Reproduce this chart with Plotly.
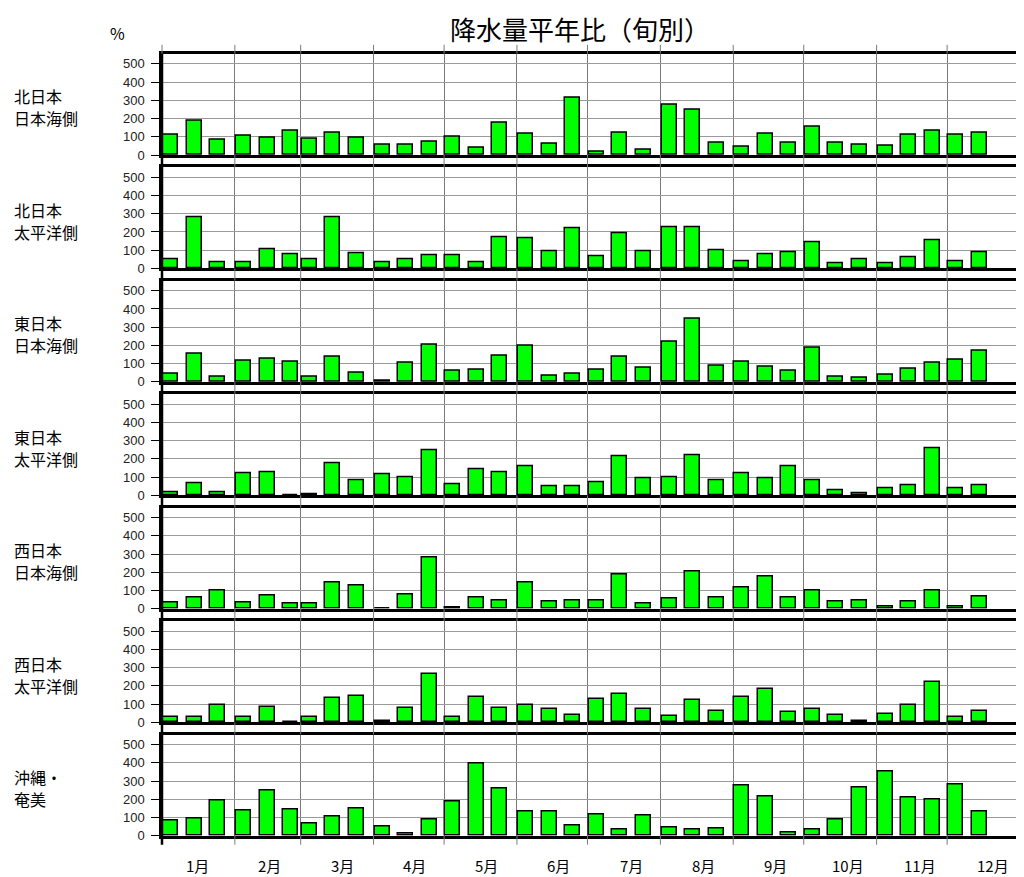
import plotly.graph_objects as go
from plotly.subplots import make_subplots

# ---------------- data ----------------
title_text = "降水量平年比（旬別）"
unit_text = "%"
month_labels = ["1月", "2月", "3月", "4月", "5月", "6月", "7月", "8月", "9月", "10月", "11月", "12月"]
month_days = [31, 28, 31, 30, 31, 30, 31, 31, 30, 31, 30, 31]
region_labels = [["北日本", "日本海側"], ["北日本", "太平洋側"], ["東日本", "日本海側"], ["東日本", "太平洋側"],
                 ["西日本", "日本海側"], ["西日本", "太平洋側"], ["沖縄・", "奄美"]]
y_ticks = [0, 100, 200, 300, 400, 500]

# values per dekad (上旬, 中旬, 下旬) for Jan..Dec; last dekad of Dec not yet available
n_japan_sea = [110, 185, 85, 107, 93, 133, 89, 120, 96, 55, 55, 75, 98, 42, 176, 115, 62, 316,
               20, 124, 27, 275, 249, 69, 44, 116, 65, 155, 65, 55, 51, 111, 131, 111, 124, None]
n_pacific = [51, 281, 35, 35, 106, 77, 49, 281, 84, 33, 53, 71, 71, 33, 173, 166, 95, 223,
             66, 192, 95, 228, 228, 102, 40, 78, 91, 144, 26, 53, 31, 60, 157, 40, 89, None]
e_japan_sea = [45, 156, 27, 116, 129, 111, 31, 136, 53, 8, 105, 204, 60, 69, 145, 200, 35, 45,
               67, 138, 76, 218, 345, 89, 111, 84, 60, 185, 31, 24, 38, 73, 105, 120, 173, None]
e_pacific = [18, 68, 15, 121, 125, 0, 9, 176, 84, 115, 99, 247, 60, 143, 130, 158, 49, 51,
             75, 214, 97, 101, 220, 84, 121, 97, 159, 82, 26, 11, 40, 55, 258, 37, 55, None]
w_japan_sea = [35, 62, 99, 33, 73, 26, 26, 146, 128, 0, 77, 283, 5, 62, 46, 142, 40, 46,
               46, 186, 26, 57, 203, 62, 119, 179, 62, 100, 42, 44, 14, 40, 102, 10, 69, None]
w_pacific = [26, 31, 95, 31, 82, 0, 27, 133, 144, 5, 77, 265, 31, 139, 77, 95, 73, 42,
             126, 153, 71, 36, 122, 60, 137, 181, 55, 75, 42, 5, 47, 97, 221, 26, 64, None]
okinawa = [86, 93, 193, 140, 250, 144, 68, 108, 148, 49, 11, 88, 186, 394, 259, 135, 135, 55,
           119, 36, 113, 44, 33, 42, 277, 215, 20, 36, 89, 265, 350, 208, 199, 283, 131, None]
series = [n_japan_sea, n_pacific, e_japan_sea, e_pacific, w_japan_sea, w_pacific, okinawa]

# ---------------- geometry / style ----------------
PAGE_OFF = 8               # default page margin of the html body
W, H = 1024 - PAGE_OFF, 877 - PAGE_OFF
PLOT_LEFT_REF, PLOT_RIGHT_REF = 162.3, 1022.5
PLOT_BOTTOM_REF = 836
M_L = PLOT_LEFT_REF - PAGE_OFF
M_R = W + PAGE_OFF - PLOT_RIGHT_REF
M_T = 53 - PAGE_OFF
M_B = H - (PLOT_BOTTOM_REF - PAGE_OFF)
PLOT_H = H - M_T - M_B
PLOT_W = W - M_L - M_R
PANEL_BOTTOM0 = 155.0      # reference px of first panel zero line
PANEL_STEP = 113.45        # px between panels
PANEL_H = 101.2            # px height of a panel box
LABEL_LINE_GAP = 22        # px between the two lines of a region label
Y_MAX = 555
BAR_OFFSET = 0.5           # days from dekad start to bar left edge
BAR_W = 6.4                # bar width in days
LABEL_FIRST_DAY = 15.1     # centre of the first month label (days)
LABEL_STEP_DAYS = 30.75    # month labels are evenly spaced
GREEN = "#00FF00"
FONT_CJK = "Noto Sans CJK JP"
FONT_NUM = "Liberation Sans"

month_starts = [0]
for d in month_days:
    month_starts.append(month_starts[-1] + d)
year_len = month_starts[-1]

bar_x = []
for m in range(12):
    for k in range(3):
        bar_x.append(month_starts[m] + 10 * k + BAR_OFFSET + BAR_W / 2)


def py(px_ref):
    return (PLOT_BOTTOM_REF - px_ref) / PLOT_H


def pxr(px_ref):
    return (px_ref - PLOT_LEFT_REF) / PLOT_W


def pxx(day):
    return day / year_len


n = len(series)
fig = make_subplots(rows=n, cols=1)

for i, vals in enumerate(series):
    fig.add_trace(go.Bar(x=bar_x, y=vals, width=BAR_W,
                         marker=dict(color=GREEN, line=dict(color="black", width=1.5)),
                         showlegend=False, hoverinfo="x+y"), row=i + 1, col=1)

shapes = []
annotations = []
for i in range(n):
    bottom_px = PANEL_BOTTOM0 + PANEL_STEP * i
    top_px = bottom_px - PANEL_H
    sfx = "" if i == 0 else str(i + 1)
    fig.layout["yaxis" + sfx].update(
        domain=[py(bottom_px), min(1.0, py(top_px))],
        range=[0, Y_MAX], tickvals=y_ticks, ticks="outside", ticklen=8, tickwidth=1,
        tickcolor="black", showgrid=True, gridcolor="#9a9a9a", gridwidth=1,
        showline=True, linecolor="black", linewidth=2.5, mirror=True, zeroline=False,
        tickfont=dict(family=FONT_NUM, size=13, color="#222"), ticklabelstandoff=4,
        fixedrange=True)
    fig.layout["xaxis" + sfx].update(
        domain=[0, 1], range=[0, year_len], tickvals=month_starts, showticklabels=False,
        ticks="", showgrid=True, gridcolor="#7a7a7a", gridwidth=1,
        showline=True, linecolor="black", linewidth=2.5, mirror=True, zeroline=False,
        fixedrange=True)
    mid = (top_px + bottom_px) / 2 + 3
    for j, line_text in enumerate(region_labels[i]):
        annotations.append(dict(text=line_text, xref="paper", yref="paper",
                                x=pxr(12), y=py(mid + (j - 0.5) * LABEL_LINE_GAP),
                                xanchor="left", yanchor="middle", align="left", showarrow=False,
                                font=dict(family=FONT_CJK, size=16, color="black")))
    # vertical month lines in the gap below each panel
    if i < n - 1:
        gap_top, gap_bot = bottom_px, PANEL_BOTTOM0 + PANEL_STEP * (i + 1) - PANEL_H
    else:
        gap_top, gap_bot = bottom_px, bottom_px + 9
    for ms in month_starts[1:-1]:
        shapes.append(dict(type="line", xref="paper", yref="paper", x0=pxx(ms), x1=pxx(ms),
                           y0=py(gap_top), y1=py(gap_bot), line=dict(color="#7a7a7a", width=1)))

# ticks above first panel
first_top = PANEL_BOTTOM0 - PANEL_H
for ms in month_starts[1:-1]:
    shapes.append(dict(type="line", xref="paper", yref="paper", x0=pxx(ms), x1=pxx(ms),
                       y0=py(first_top - 9), y1=py(first_top), line=dict(color="#7a7a7a", width=1)))
# continuous left border
last_bottom = PANEL_BOTTOM0 + PANEL_STEP * (n - 1)
shapes.append(dict(type="line", xref="paper", yref="paper", x0=0, x1=0,
                   y0=py(first_top), y1=py(last_bottom + 9), line=dict(color="black", width=2.5)))
shapes.append(dict(type="line", xref="paper", yref="paper", x0=0, x1=0,
                   y0=py(first_top - 9), y1=py(first_top), line=dict(color="#7a7a7a", width=1)))

# month labels (evenly spaced)
for m, lab in enumerate(month_labels):
    annotations.append(dict(text=lab, xref="paper", yref="paper",
                            x=pxx(LABEL_FIRST_DAY + m * LABEL_STEP_DAYS), y=py(865),
                            xanchor="center", yanchor="middle", showarrow=False,
                            font=dict(family=FONT_CJK, size=15, color="black")))

annotations.append(dict(text=title_text, xref="paper", yref="paper",
                        x=pxr(581), y=py(28), xanchor="center", yanchor="middle",
                        showarrow=False, font=dict(family=FONT_CJK, size=26, color="black")))
annotations.append(dict(text=unit_text, xref="paper", yref="paper",
                        x=pxr(118), y=py(33), xanchor="center", yanchor="middle",
                        showarrow=False, font=dict(family=FONT_CJK, size=16, color="black")))

fig.update_layout(width=W, height=H, margin=dict(l=M_L, r=M_R, t=M_T, b=M_B, pad=0),
                  paper_bgcolor="white", plot_bgcolor="white", bargap=0,
                  shapes=shapes, annotations=annotations, showlegend=False)

fig.write_html("out.html")
